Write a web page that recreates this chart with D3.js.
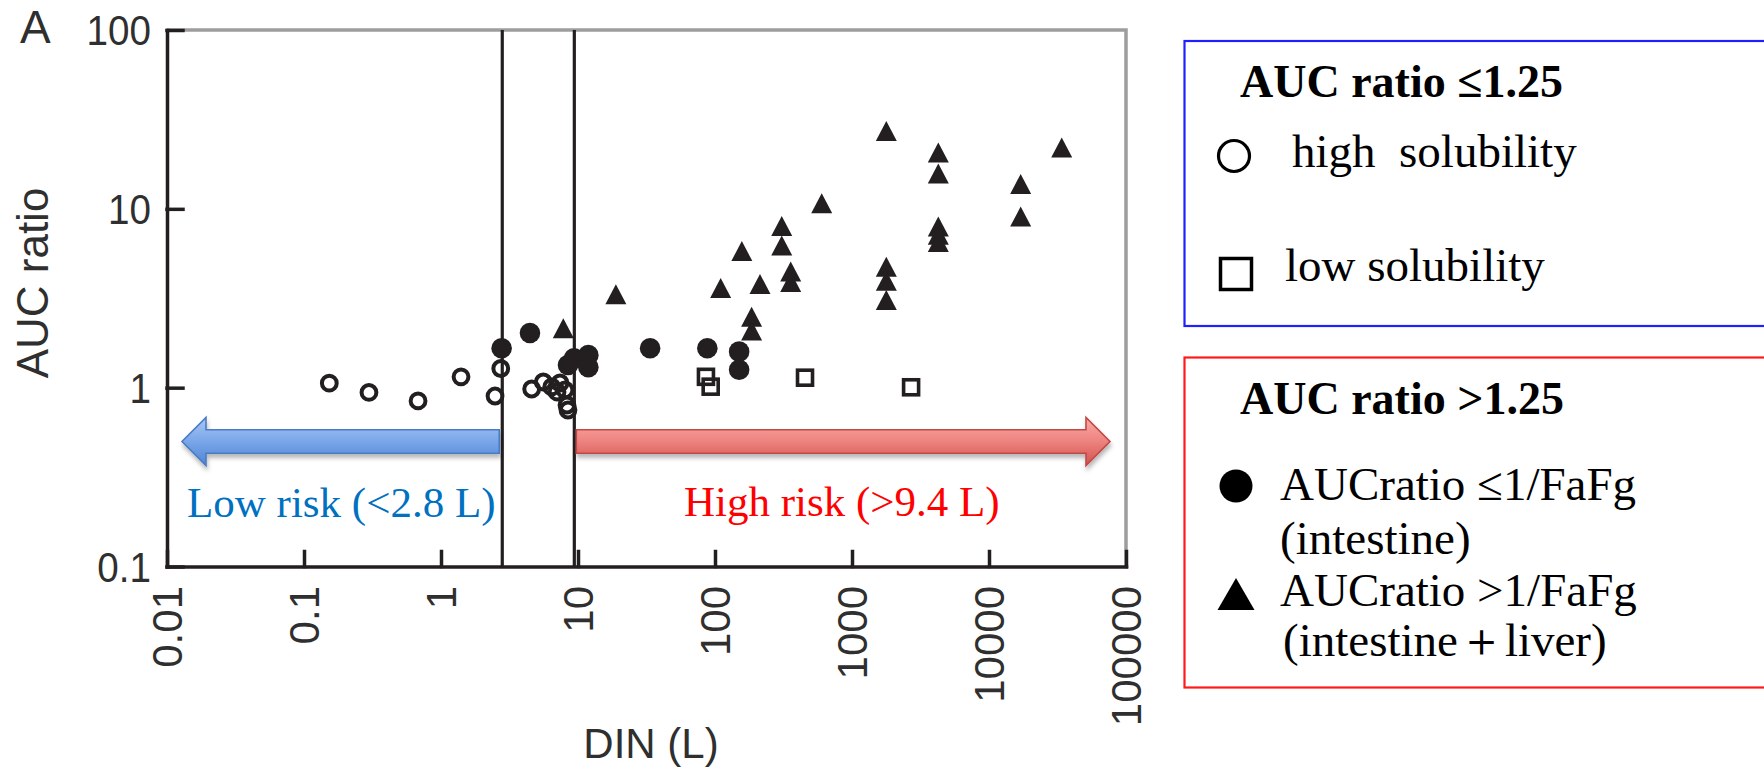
<!DOCTYPE html>
<html>
<head>
<meta charset="utf-8">
<title>DIN vs AUC ratio</title>
<script src="https://cdn.jsdelivr.net/npm/d3@7/dist/d3.min.js"></script>
<style>
  html, body { margin: 0; padding: 0; background: #ffffff; }
  svg { display: block; }
</style>
</head>
<body>
<svg id="chart" width="1764" height="768"></svg>
<script>
// ---------------------------------------------------------------- data
const xTickValues = [0.01, 0.1, 1, 10, 100, 1000, 10000, 100000];
const xTickLabels = ["0.01", "0.1", "1", "10", "100", "1000", "10000", "100000"];
const yTickValues = [0.1, 1, 10, 100];
const yTickLabels = ["0.1", "1", "10", "100"];

// AUC ratio <= 1.25, high solubility (open circles)
const highSolDIN = [0.153, 0.298, 0.68, 1.40, 2.48, 2.73, 4.59, 5.58, 6.43, 7.03, 7.39, 8.04, 8.31, 8.45];
const highSolAUC = [1.06, 0.94, 0.843, 1.15, 0.898, 1.28, 0.983, 1.076, 1.009, 0.946, 1.062, 0.971, 0.80, 0.75];

// AUC ratio <= 1.25, low solubility (open squares)
const lowSolDIN = [85.9, 93.0, 454, 2700];
const lowSolAUC = [1.15, 1.013, 1.137, 1.005];

// AUC ratio > 1.25, AUC ratio <= 1/FaFg, intestine (filled circles)
const intestineDIN = [2.77, 4.46, 8.45, 9.35, 11.9, 11.9, 33.6, 87.9, 150, 150];
const intestineAUC = [1.66, 2.02, 1.34, 1.46, 1.52, 1.30, 1.66, 1.66, 1.59, 1.26];

// AUC ratio > 1.25, AUC ratio > 1/FaFg, intestine + liver (filled triangles)
const liverDIN = [7.81, 18.9, 110, 213, 157, 185, 185, 307, 307, 357, 357, 601,
                  1780, 1780, 1780, 1780, 4265, 4265, 4265, 4265, 4265,
                  17030, 17030, 33940];
const liverAUC = [2.06, 3.19, 3.46, 3.64, 5.56, 2.39, 2.00, 7.69, 5.97, 4.27, 3.73, 10.3,
                  26.1, 4.55, 3.80, 2.96, 19.8, 15.1, 7.62, 6.87, 6.25,
                  13.2, 8.67, 21.1];

// DIN cut-offs (L) and the AUC ratio level of the risk arrows
const lowRiskCutoff = 2.8;
const highRiskCutoff = 9.4;
const arrowLevel = 0.5;

const riskLabels = ["Low risk (<2.8 L)", "High risk (>9.4 L)"];
const legendTitles = ["AUC ratio \u22641.25", "AUC ratio >1.25"];
const legendLowAUC = ["high\u00a0 solubility", "low solubility"];
const legendHighAUC = [["AUCratio \u22641/FaFg", "(intestine)"],
                       ["AUCratio >1/FaFg", "(intestine\uFF0Bliver)"]];

// ---------------------------------------------------------------- setup
const svg = d3.select("#chart");
const ink = "#231f20";
const frameGrey = "#9d9d9f";
const labelGrey = "#2f2f2f";
const sansFont = "'Liberation Sans', Arial, Helvetica, sans-serif";
const serifFont = "'Liberation Serif', 'Times New Roman', Times, serif";

const x = d3.scaleLog().domain([0.01, 100000]).range([167, 1126]);
const y = d3.scaleLog().domain([0.1, 100]).range([566.5, 30]);

const defs = svg.append("defs");
function vGradient(id, stops) {
  const g = defs.append("linearGradient").attr("id", id)
    .attr("x1", 0).attr("y1", 0).attr("x2", 0).attr("y2", 1);
  stops.forEach(([o, c]) => g.append("stop").attr("offset", o).attr("stop-color", c));
}
vGradient("blueFill", [[0, "#a8c7f4"], [0.45, "#7ea9eb"], [1, "#4f85d5"]]);
vGradient("redFill", [[0, "#f9aaa6"], [0.45, "#ef8783"], [1, "#d4524e"]]);
const shadow = defs.append("filter").attr("id", "arrowShadow")
  .attr("x", "-5%").attr("y", "-60%").attr("width", "110%").attr("height", "220%");
shadow.append("feDropShadow").attr("dx", 1).attr("dy", 4).attr("stdDeviation", 2.2)
  .attr("flood-color", "#000").attr("flood-opacity", 0.28);

// ---------------------------------------------------------------- frame & axes
// grey top and right edges of the plot frame
svg.append("path")
  .attr("d", `M${x(0.01)},${y(100)}H${x(100000)}V${y(0.1)}`)
  .attr("fill", "none").attr("stroke", frameGrey).attr("stroke-width", 3.5);

const xAxisG = svg.append("g")
  .attr("transform", `translate(0,${y(0.1)})`)
  .call(d3.axisBottom(x).tickValues(xTickValues).tickSizeInner(-15).tickSizeOuter(0).tickFormat(""));
xAxisG.selectAll("text").remove();
xAxisG.selectAll("path, line").attr("stroke", ink).attr("stroke-width", 3.5).attr("stroke-linecap", "square");

const yAxisG = svg.append("g")
  .attr("transform", `translate(${x(0.01)},0)`)
  .call(d3.axisLeft(y).tickValues(yTickValues).tickSizeInner(-16).tickSizeOuter(0).tickFormat(""));
yAxisG.selectAll("text").remove();
yAxisG.selectAll("path, line").attr("stroke", ink).attr("stroke-width", 3.5).attr("stroke-linecap", "square");

// x tick labels, rotated to read upward
svg.append("g").selectAll("text").data(xTickValues).join("text")
  .attr("transform", d => `translate(${x(d)},586) rotate(-90)`)
  .attr("text-anchor", "end").attr("dy", "0.36em")
  .attr("font-family", sansFont).attr("font-size", 42).attr("fill", labelGrey)
  .text((d, i) => xTickLabels[i]);

// y tick labels
svg.append("g").selectAll("text").data(yTickValues).join("text")
  .attr("transform", d => `translate(151,${y(d)}) scale(0.92,1)`)
  .attr("text-anchor", "end").attr("dy", "0.36em")
  .attr("font-family", sansFont).attr("font-size", 42).attr("fill", labelGrey)
  .text((d, i) => yTickLabels[i]);

// axis titles and panel letter
svg.append("text").attr("x", 20).attr("y", 43)
  .attr("font-family", sansFont).attr("font-size", 46).attr("fill", labelGrey).text("A");
svg.append("text").attr("transform", "translate(48,283) rotate(-90)")
  .attr("text-anchor", "middle")
  .attr("font-family", sansFont).attr("font-size", 44).attr("fill", labelGrey).text("AUC ratio");
svg.append("text").attr("x", 651).attr("y", 758).attr("text-anchor", "middle")
  .attr("font-family", sansFont).attr("font-size", 42).attr("fill", labelGrey).text("DIN (L)");

// ---------------------------------------------------------------- cut-off lines
svg.append("g").selectAll("line").data([lowRiskCutoff, highRiskCutoff]).join("line")
  .attr("x1", d => x(d)).attr("x2", d => x(d))
  .attr("y1", y(100)).attr("y2", y(0.1))
  .attr("stroke", ink).attr("stroke-width", 3.2);

// ---------------------------------------------------------------- risk arrows
function arrowPath(xTail, xTip, yc, shaftHalf, headHalf, headLen) {
  const dir = Math.sign(xTip - xTail);
  const xb = xTip - dir * headLen;
  return `M${xTail},${yc - shaftHalf}H${xb}V${yc - headHalf}L${xTip},${yc}` +
         `L${xb},${yc + headHalf}V${yc + shaftHalf}H${xTail}Z`;
}
const yArrow = y(arrowLevel);
svg.append("path")
  .attr("d", arrowPath(x(lowRiskCutoff) - 3, x(0.01) + 15, yArrow, 11.7, 24, 24))
  .attr("fill", "url(#blueFill)").attr("stroke", "#4a7cc4").attr("stroke-width", 1.6)
  .attr("filter", "url(#arrowShadow)");
svg.append("path")
  .attr("d", arrowPath(x(highRiskCutoff) + 2, x(100000) - 16, yArrow, 11.7, 24, 24))
  .attr("fill", "url(#redFill)").attr("stroke", "#c04a47").attr("stroke-width", 1.6)
  .attr("filter", "url(#arrowShadow)");

svg.append("text").attr("x", 187).attr("y", 517)
  .attr("font-family", serifFont).attr("font-size", 43).attr("fill", "#0070c0")
  .text(riskLabels[0]);
svg.append("text").attr("x", 684).attr("y", 516)
  .attr("font-family", serifFont).attr("font-size", 43).attr("fill", "#ff0000")
  .text(riskLabels[1]);

// ---------------------------------------------------------------- markers
function trianglePath(w, h) {
  // centroid at the origin
  return `M0,${-2 * h / 3}L${w / 2},${h / 3}L${-w / 2},${h / 3}Z`;
}
const marks = svg.append("g");

marks.append("g").selectAll("rect").data(lowSolDIN).join("rect")
  .attr("x", d => x(d) - 7.5).attr("y", (d, i) => y(lowSolAUC[i]) - 7.5)
  .attr("width", 15).attr("height", 15)
  .attr("fill", "none").attr("stroke", ink).attr("stroke-width", 3.6);

marks.append("g").selectAll("circle").data(highSolDIN).join("circle")
  .attr("cx", d => x(d)).attr("cy", (d, i) => y(highSolAUC[i])).attr("r", 7.4)
  .attr("fill", "none").attr("stroke", ink).attr("stroke-width", 4);

marks.append("g").selectAll("circle").data(intestineDIN).join("circle")
  .attr("cx", d => x(d)).attr("cy", (d, i) => y(intestineAUC[i])).attr("r", 10.3)
  .attr("fill", ink);

marks.append("g").selectAll("path").data(liverDIN).join("path")
  .attr("transform", (d, i) => `translate(${x(d)},${y(liverAUC[i])})`)
  .attr("d", trianglePath(21, 20))
  .attr("fill", ink);

// ---------------------------------------------------------------- legend
const leg = svg.append("g");
leg.append("rect").attr("x", 1184.5).attr("y", 41).attr("width", 700).attr("height", 285)
  .attr("fill", "none").attr("stroke", "#1f1fff").attr("stroke-width", 2.2);
leg.append("rect").attr("x", 1184.5).attr("y", 357.5).attr("width", 700).attr("height", 330)
  .attr("fill", "none").attr("stroke", "#ff1a1a").attr("stroke-width", 2.2);

leg.append("text").attr("x", 1240).attr("y", 97)
  .attr("font-family", serifFont).attr("font-weight", "bold").attr("font-size", 46).attr("fill", "#000")
  .text(legendTitles[0]);
leg.append("text").attr("x", 1240).attr("y", 414)
  .attr("font-family", serifFont).attr("font-weight", "bold").attr("font-size", 46).attr("fill", "#000")
  .text(legendTitles[1]);

leg.append("circle").attr("cx", 1234).attr("cy", 156).attr("r", 15.5)
  .attr("fill", "none").attr("stroke", "#000").attr("stroke-width", 3.2);
leg.append("text").attr("x", 1292).attr("y", 167)
  .attr("font-family", serifFont).attr("font-size", 47).attr("fill", "#000").text(legendLowAUC[0]);

leg.append("rect").attr("x", 1236 - 15.5).attr("y", 274 - 15.5).attr("width", 31).attr("height", 31)
  .attr("fill", "none").attr("stroke", "#000").attr("stroke-width", 3.5);
leg.append("text").attr("x", 1285).attr("y", 281)
  .attr("font-family", serifFont).attr("font-size", 47).attr("fill", "#000").text(legendLowAUC[1]);

leg.append("circle").attr("cx", 1236).attr("cy", 486).attr("r", 16.5).attr("fill", "#000");
leg.append("text").attr("x", 1280).attr("y", 500)
  .attr("font-family", serifFont).attr("font-size", 47).attr("fill", "#000").text(legendHighAUC[0][0]);
leg.append("text").attr("x", 1280).attr("y", 554)
  .attr("font-family", serifFont).attr("font-size", 47).attr("fill", "#000").text(legendHighAUC[0][1]);

leg.append("path").attr("transform", "translate(1236,599.3)").attr("d", trianglePath(37, 32)).attr("fill", "#000");
leg.append("text").attr("x", 1280).attr("y", 606)
  .attr("font-family", serifFont).attr("font-size", 47).attr("fill", "#000").text(legendHighAUC[1][0]);
leg.append("text").attr("x", 1283).attr("y", 656)
  .attr("font-family", serifFont).attr("font-size", 47).attr("fill", "#000").text(legendHighAUC[1][1]);
</script>
</body>
</html>
